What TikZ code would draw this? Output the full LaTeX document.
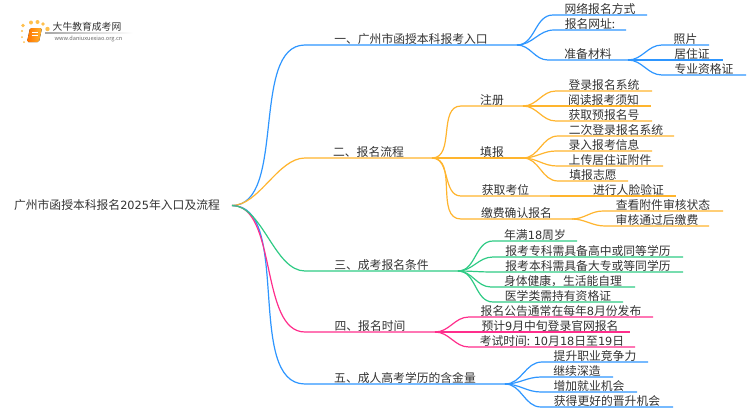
\documentclass[tikz,border=0pt]{standalone}
\usepackage{fontspec}
\setmainfont{Noto Sans CJK SC}
\newfontfamily\digitfont{DejaVu Sans}[Scale=0.96]
\definecolor{skyline}{HTML}{2E96FF}
\definecolor{amberline}{HTML}{FFB52E}
\definecolor{greenline}{HTML}{2FCB85}
\definecolor{pinkline}{HTML}{FF2E8C}
\definecolor{labelgray}{HTML}{333333}
\begin{document}
\begin{tikzpicture}[
		x=1pt,y=-1pt,
		item/.style={anchor=south west,inner xsep=0pt,inner ysep=0.2pt,outer sep=0pt,text=labelgray,
				font=\fontsize{11.8}{12}\selectfont,text height=8.5pt,text depth=1.5pt},
		link/.style={out=0,in=180,line width=1.2pt,looseness=1},
		rootlink/.style={link,looseness=0.8}
	]
	\useasboundingbox (0,0) rectangle (750,410);
	% logo
	\fill[white] (0,0) rectangle (750,410);
	\foreach \dotx/\doty/\dotr in {23/25.5/1.8,31/22.5/2,37.5/22/2,43/24/1.8,47.5/29/2.2,22/31/1.2,22/37/1,24/42/1}
		\fill[amberline!85!white] (\dotx,\doty) circle (\dotr);
	\fill[rounded corners=1.5pt,left color=orange!90!red,right color=amberline] (30,28) -- (42,28) -- (39,42) -- (27,42) -- cycle;
	\draw[white,line width=0.6pt] (32,32) -- (38,32) (31.5,35) -- (37.5,35);
	\shade[left color=black!35,right color=white] (45,32.8) rectangle (133,33.4);
	\node[inner sep=0pt,text=labelgray,font=\fontsize{9.8}{11}\selectfont] (logotitle) at (87,27) {大牛教育成考网};
	\node[inner sep=0pt,text=black!60,font=\fontsize{5.6}{6}\selectfont] (logourl) at (88.5,38.5) {www.daniuxuexiao.org.cn};
	% root
	\node[item,anchor=west,minimum width=230] (root) at (2,205.5) {广州市函授本科报名{\digitfont 2025}年入口及流程};
	% first level
	\node[item,minimum width=212] (one) at (305,45) {一、广州市函授本科报考入口};
	\node[item,minimum width=127] (two) at (305,158) {二、报名流程};
	\node[item,minimum width=153] (three) at (305,271) {三、成考报名条件};
	\node[item,minimum width=130] (four) at (305,332) {四、报名时间};
	\node[item,minimum width=200] (five) at (305,384) {五、成人高考学历的含金量};
	% one
	\node[item,minimum width=94] (one1) at (553,15) {网络报名方式};
	\node[item,minimum width=72] (one2) at (554,30) {报名网址:};
	\node[item,minimum width=80] (one3) at (548,60) {准备材料};
	\node[item,minimum width=47] (one31) at (662,45) {照片};
	\node[item,minimum width=62] (one32) at (661,60) {居住证};
	\node[item,minimum width=84] (one33) at (662,75) {专业资格证};
	% two
	\node[item,minimum width=62] (two1) at (461,106) {注册};
	\node[item,minimum width=62] (two2) at (461,158) {填报};
	\node[item,minimum width=89] (two3) at (461,196) {获取考位};
	\node[item,minimum width=111] (two4) at (461,219) {缴费确认报名};
	\node[item,minimum width=96] (two11) at (556,91) {登录报名系统};
	\node[item,minimum width=95] (two12) at (556,106) {阅读报考须知};
	\node[item,minimum width=96] (two13) at (556,121) {获取预报名号};
	\node[item,minimum width=116] (two21) at (558,136) {二次登录报名系统};
	\node[item,minimum width=96] (two22) at (556,151) {录入报考信息};
	\node[item,minimum width=106] (two23) at (557,166) {上传居住证附件};
	\node[item,minimum width=70] (two24) at (558,181) {填报志愿};
	\node[item,minimum width=95] (two31) at (581,196) {进行人脸验证};
	\node[item,minimum width=120] (two41) at (603,211) {查看附件审核状态};
	\node[item,minimum width=104] (two42) at (605,226) {审核通过后缴费};
	% three
	\node[item,minimum width=84] (three1) at (493,241) {年满{\digitfont 18}周岁};
	\node[item,minimum width=190] (three2) at (493,257) {报考专科需具备高中或同等学历};
	\node[item,minimum width=190] (three3) at (493,272) {报考本科需具备大专或等同学历};
	\node[item,minimum width=144] (three4) at (491,287) {身体健康，生活能自理};
	\node[item,minimum width=130] (three5) at (493,302) {医学类需持有资格证};
	% four
	\node[item,minimum width=184] (four1) at (469,317) {报名公告通常在每年{\digitfont 8}月份发布};
	\node[item,minimum width=160] (four2) at (470,332) {预计{\digitfont 9}月中旬登录官网报名};
	\node[item,minimum width=166] (four3) at (469,347) {考试时间: {\digitfont 10}月{\digitfont 18}日至{\digitfont 19}日};
	% five
	\node[item,minimum width=106] (five1) at (542,362) {提升职业竞争力};
	\node[item,minimum width=72] (five2) at (541,377) {继续深造};
	\node[item,minimum width=96] (five3) at (541,392) {增加就业机会};
	\node[item,minimum width=132] (five4) at (541,407) {获得更好的晋升机会};
	% connectors
	\foreach \to/\tint in {one/skyline,five/skyline,two/amberline,four/pinkline,three/greenline}
		\draw[\tint,rootlink] (root.east) to (\to.south west) -- (\to.south east);
	\foreach \from/\to in {one/one1,one/one2,one/one3,one3/one31,one3/one32,one3/one33,five/five1,five/five2,five/five3,five/five4}
		\draw[skyline,link] (\from.south east) to (\to.south west) -- (\to.south east);
	\foreach \from/\to in {two/two1,two/two2,two/two3,two/two4,two1/two11,two1/two12,two1/two13,two2/two21,two2/two22,two2/two23,two2/two24,two3/two31,two4/two41,two4/two42}
		\draw[amberline,link] (\from.south east) to (\to.south west) -- (\to.south east);
	\foreach \from/\to in {four/four1,four/four2,four/four3}
		\draw[pinkline,link] (\from.south east) to (\to.south west) -- (\to.south east);
	\foreach \from/\to in {three/three1,three/three2,three/three3,three/three4,three/three5}
		\draw[greenline,link] (\from.south east) to (\to.south west) -- (\to.south east);
\end{tikzpicture}
\end{document}
